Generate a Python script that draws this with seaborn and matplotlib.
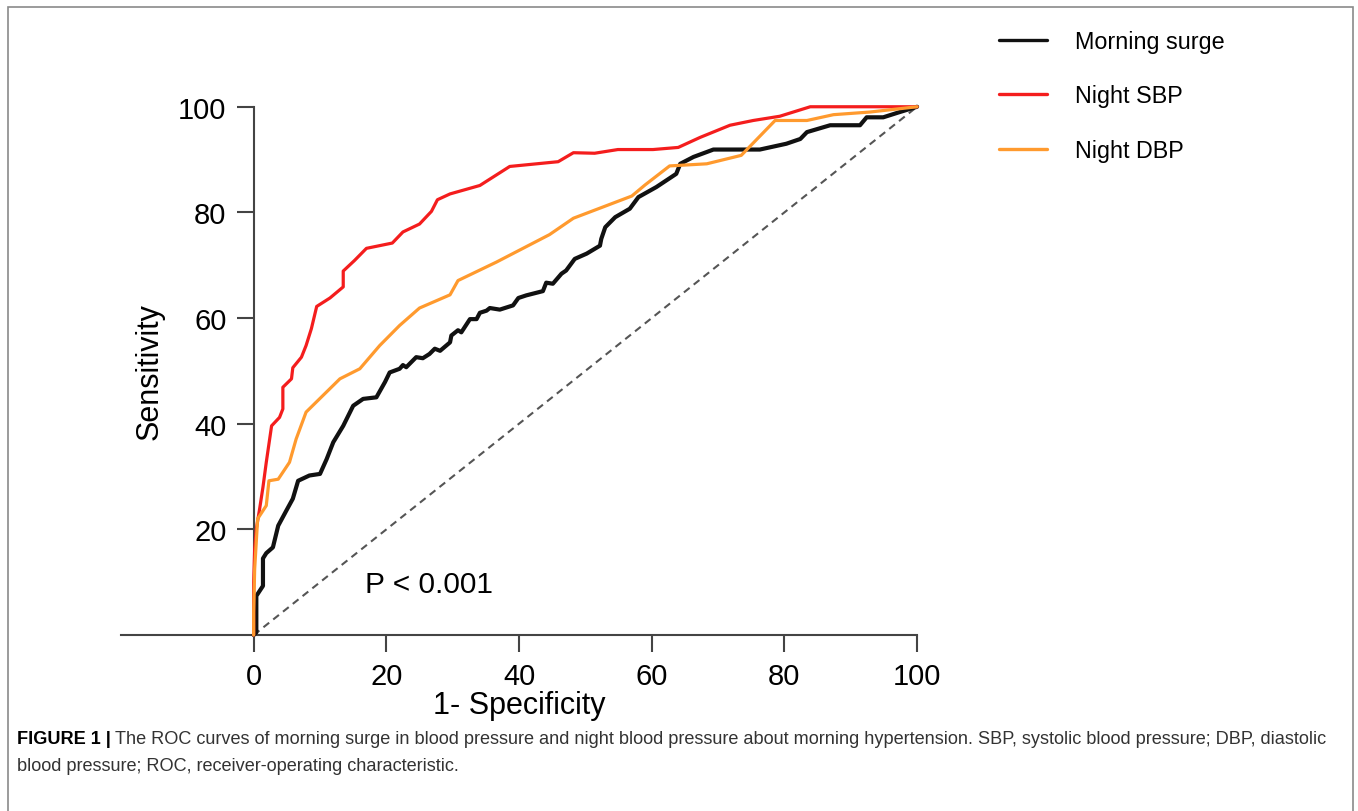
import numpy as np
import pandas as pd
import matplotlib.pyplot as plt
from matplotlib.patches import Rectangle
import seaborn as sns

# ===== DATA (in %) =====
surge_x = [0, 0.4, 0.4, 1.4, 1.4, 1.9, 2.9, 3.7, 4.9, 5.9,
           6.7, 8.4, 10.0, 11.0, 12.0, 13.5, 15.0, 16.5, 18.5, 19.8,
           20.5, 22.0, 22.5, 23.0, 24.5, 25.5, 26.5, 27.3, 28.1, 29.6,
           29.8, 30.8, 31.3, 32.6, 33.6, 34.1, 35.1, 35.6, 37.1, 39.1,
           39.9, 41.1, 43.6, 44.1, 45.1, 46.4, 47.1, 48.4, 50.2, 52.2,
           52.4, 53.0, 54.5, 56.7, 58.0, 60.7, 63.7, 64.3, 66.3, 69.3,
           76.3, 80.3, 82.4, 83.4, 86.9, 91.4, 92.4, 94.9, 97.4, 100]
surge_y = [0, 0.5, 7.4, 9.3, 14.5, 15.5, 16.6, 20.7, 23.5, 25.8,
           29.2, 30.2, 30.5, 33.3, 36.5, 39.6, 43.4, 44.7, 45.0, 47.9,
           49.7, 50.4, 51.1, 50.7, 52.6, 52.4, 53.2, 54.2, 53.8, 55.4,
           56.7, 57.7, 57.3, 59.8, 59.8, 61.0, 61.4, 61.9, 61.6, 62.4,
           63.8, 64.3, 65.1, 66.7, 66.5, 68.4, 69.0, 71.2, 72.2, 73.7,
           75.0, 77.2, 79.1, 80.7, 82.9, 84.8, 87.3, 89.2, 90.5, 91.9,
           91.9, 93.0, 93.9, 95.2, 96.5, 96.5, 98.0, 98.0, 99.0, 100]

sbp_x = [0, 0, 0.15, 0.4, 0.9, 1.4, 1.9, 2.7, 3.9, 4.4, 4.4, 5.7, 5.9, 7.2, 7.9, 8.7, 9.5, 11.5,
         13.5, 13.5, 15.2, 17.0, 20.9, 22.5, 25.0, 26.8, 27.7, 29.6, 34.1, 38.6, 45.9, 48.2,
         51.4, 54.9, 60.2, 64.0, 67.3, 71.8, 75.3, 79.3, 83.9, 100]
sbp_y = [0, 10, 16.3, 20.1, 23.9, 28.0, 32.7, 39.6, 41.2, 42.8, 46.9, 48.5, 50.6, 52.6, 54.8, 58.0,
         62.2, 63.8, 65.9, 68.9, 70.9, 73.2, 74.2, 76.3, 77.8, 80.2, 82.4, 83.5, 85.1, 88.7, 89.6,
         91.3, 91.2, 91.9, 91.9, 92.3, 94.2, 96.5, 97.4, 98.2, 100, 100]

dbp_x = [0, 0, 0.15, 0.6, 1.9, 2.3, 3.7, 5.4, 6.4, 7.9, 13.0, 16.0, 19.0, 22.0, 25.0, 29.6, 30.8,
         36.6, 44.6, 48.2, 57.0, 59.0, 62.7, 68.3, 73.5, 78.6, 83.4, 87.4, 92.9, 100]
dbp_y = [0, 4.3, 12.5, 22.0, 24.5, 29.2, 29.5, 32.7, 37.1, 42.2, 48.5, 50.4, 54.8, 58.6, 61.9, 64.4,
         67.1, 70.6, 75.8, 78.9, 83.1, 85.2, 88.8, 89.2, 90.8, 97.4, 97.4, 98.5, 99.0, 100]

chance_line = [0, 100]
series_names = ['Morning surge', 'Night SBP', 'Night DBP']
series_colors = ['#111111', '#f41d1d', '#ff9a2e']
series_widths = [3.0, 2.3, 2.3]
x_ticks = [0, 20, 40, 60, 80, 100]
y_ticks = [20, 40, 60, 80, 100]
p_label = 'P < 0.001'
caption_bold = 'FIGURE 1 |'
caption_line1 = ('The ROC curves of morning surge in blood pressure and night blood pressure about '
                 'morning hypertension. SBP, systolic blood pressure; DBP, diastolic')
caption_line2 = 'blood pressure; ROC, receiver-operating characteristic.'

# long table for seaborn
frames = []
for name, xs, ys in zip(series_names, [surge_x, sbp_x, dbp_x], [surge_y, sbp_y, dbp_y]):
    frames.append(pd.DataFrame({'fpr': xs, 'tpr': ys, 'curve': name}))
df = pd.concat(frames, ignore_index=True)

# ===== STYLE =====
sns.set_style('ticks')
plt.rcParams['font.family'] = ['Liberation Sans', 'DejaVu Sans']
plt.rcParams['text.color'] = 'black'
plt.rcParams['axes.labelcolor'] = 'black'
axis_col = '#444444'

fig = plt.figure(figsize=(13.58, 8.12), dpi=100)
ax = fig.add_axes([0.0891, 0.2167, 0.5862, 0.6506])

# diagonal reference
ax.plot(chance_line, chance_line, ls=(0, (3.5, 2.5)), color='#555555', lw=1.5, zorder=1)

for name, col, lw in zip(series_names, series_colors, series_widths):
    sns.lineplot(data=df[df['curve'] == name], x='fpr', y='tpr', color=col, lw=lw,
                 estimator=None, sort=False, ax=ax, label=name, clip_on=False, zorder=3)

ax.set_xlim(-20, 100)
ax.set_ylim(0, 100)
ax.spines['left'].set_position(('data', 0))
sns.despine(ax=ax)
for s in ['left', 'bottom']:
    ax.spines[s].set_linewidth(1.5)
    ax.spines[s].set_color(axis_col)
ax.set_xticks(x_ticks)
ax.set_yticks(y_ticks)
ax.tick_params(length=12.5, width=1.5, color=axis_col, labelsize=21, pad=7, labelcolor='black')

ax.set_xlabel('1- Specificity', fontsize=22, labelpad=0)
ax.set_ylabel('Sensitivity', fontsize=22, labelpad=10)

ax.text(26.5, 9.7, p_label, ha='center', va='center', fontsize=21.5)

leg = ax.legend(loc='upper left', bbox_to_anchor=(0.7356, 0.962), bbox_transform=fig.transFigure,
                frameon=False, fontsize=16.8, handlelength=2.05, handletextpad=1.2,
                labelspacing=1.35, borderaxespad=0, borderpad=0)
for ln in leg.get_lines():
    ln.set_linewidth(2.4)
for t in leg.get_texts():
    t.set_color('black')

# ===== CAPTION + FRAME =====
cap_font = ['Liberation Sans', 'DejaVu Sans']
cap_size = 13.1
y1 = 1 - 740 / 812
y2 = 1 - 767 / 812
x0 = 17 / 1358
tb = fig.text(x0, y1, caption_bold, fontweight='bold', fontsize=cap_size, va='center',
              family=cap_font, color='black')
fig.canvas.draw()
bb = tb.get_window_extent()
x_rest = (bb.x1 + 4) / fig.bbox.width
fig.text(x_rest, y1, caption_line1, fontsize=cap_size, va='center', family=cap_font, color='#333333')
fig.text(x0, y2, caption_line2, fontsize=cap_size, va='center', family=cap_font, color='#333333')

fig.patches.append(Rectangle((8 / 1358, -0.05), (1353 - 8) / 1358, 1.05 - 8 / 812,
                             transform=fig.transFigure, fill=False, edgecolor='#8a8a8a', lw=1.2))

fig.savefig('out.png', dpi=100)
